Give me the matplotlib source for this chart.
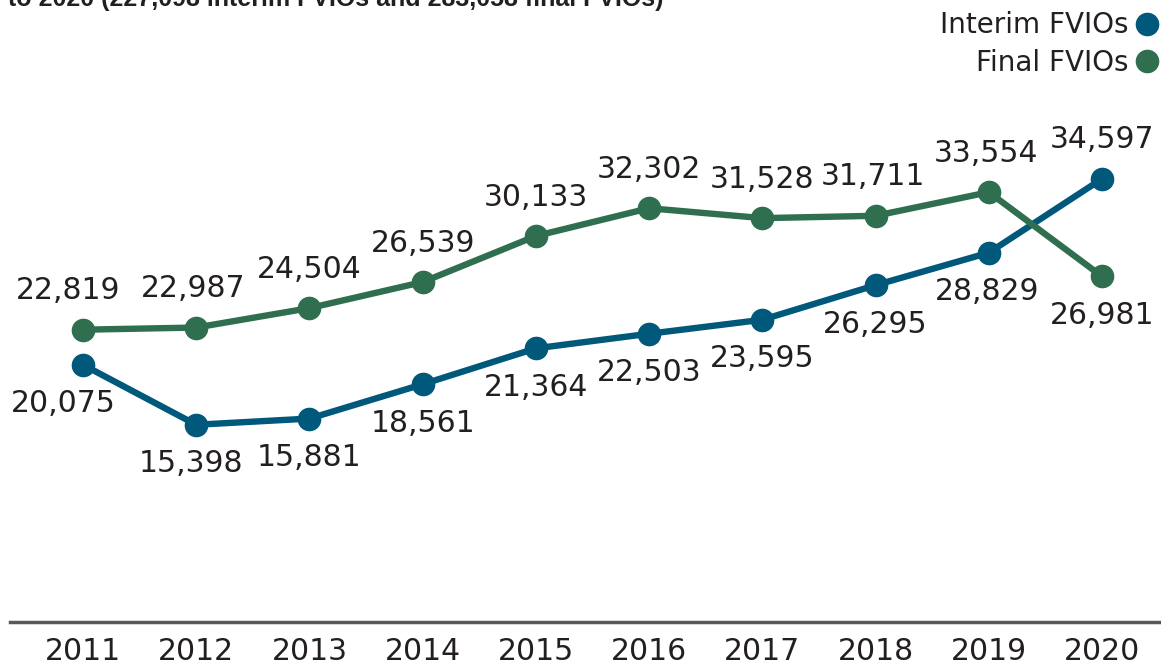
import matplotlib.pyplot as plt
from matplotlib.lines import Line2D

# FVIOs issued per year
years = [2011, 2012, 2013, 2014, 2015, 2016, 2017, 2018, 2019, 2020]
interim = [20075, 15398, 15881, 18561, 21364, 22503, 23595, 26295, 28829, 34597]
final = [22819, 22987, 24504, 26539, 30133, 32302, 31528, 31711, 33554, 26981]

# label placement: +1 above the point, -1 below
interim_side = [-1, -1, -1, -1, -1, -1, -1, -1, -1, 1]
final_side = [1, 1, 1, 1, 1, 1, 1, 1, 1, -1]
interim_dx = [-14, -4, 0, 0, 0, 0, 0, 0, -1, 0]
final_dx = [-11, -2, 0, 0, 0, 0, 0, -2, -2, 0]

blue = '#00587a'
green = '#2f6f50'
text_col = '#231f20'

plt.rcParams['font.family'] = ['DejaVu Sans']

fig = plt.figure(figsize=(11.61, 6.66), dpi=100)
ax = fig.add_axes([10 / 1161, 44 / 666, 1 - 10 / 1161, 522 / 666])

ax.plot(years, interim, color=blue, lw=4.6, marker='o', ms=16, zorder=3)
ax.plot(years, final, color=green, lw=4.6, marker='o', ms=16, zorder=3)

for x, v, s, dx in zip(years, interim, interim_side, interim_dx):
    ax.annotate(f'{v:,}', (x, v), xytext=(dx, 28 * s), textcoords='offset points',
                ha='center', va='center', fontsize=21.5, color=text_col)
for x, v, s, dx in zip(years, final, final_side, final_dx):
    ax.annotate(f'{v:,}', (x, v), xytext=(dx, 28 * s), textcoords='offset points',
                ha='center', va='center', fontsize=21.5, color=text_col)

ax.set_xlim(2010.355, 2020.521)
ax.set_ylim(0, 40750)
ax.set_xticks(years)
ax.set_xticklabels([str(y) for y in years], fontsize=21.5, color=text_col)
ax.tick_params(axis='x', length=0, pad=11)
ax.set_yticks([])
for side in ['top', 'left', 'right']:
    ax.spines[side].set_visible(False)
ax.spines['bottom'].set_color('#58595b')
ax.spines['bottom'].set_linewidth(2.5)

handles = [Line2D([], [], ls='none', marker='o', ms=16, color=blue),
           Line2D([], [], ls='none', marker='o', ms=16, color=green)]
fig.legend(handles, ['Interim FVIOs', 'Final FVIOs'], loc='upper right',
           bbox_to_anchor=(1.008, 1.006), frameon=False, markerfirst=False,
           fontsize=20, labelcolor=text_col, handlelength=0.6, handletextpad=0.35,
           labelspacing=0.34, borderaxespad=0.15)

fig.text(8 / 1161, 1 - 6 / 666, 'to 2020 (227,098 interim FVIOs and 283,058 final FVIOs)',
         family=['Liberation Sans', 'DejaVu Sans'], weight='bold', fontsize=18,
         color=text_col, va='baseline', ha='left')

fig.savefig('out.png', dpi=100)
